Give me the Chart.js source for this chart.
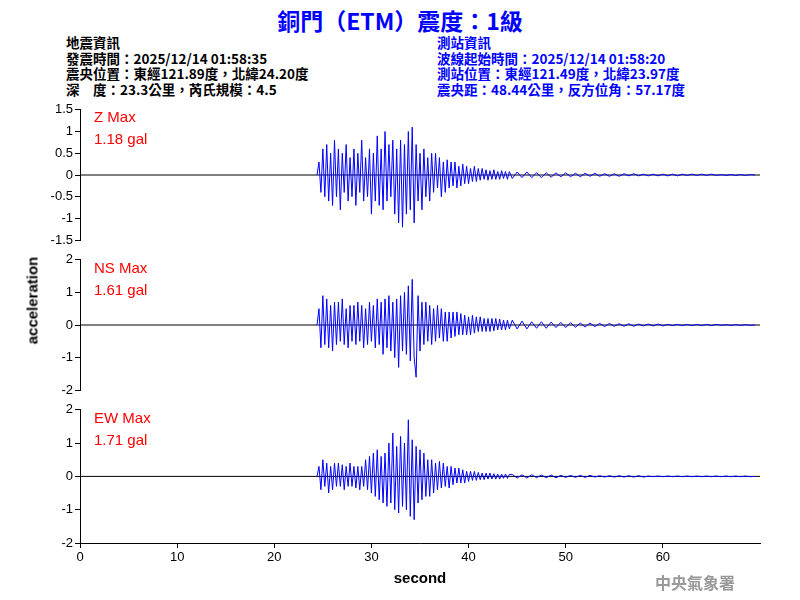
<!DOCTYPE html>
<html>
<head>
<meta charset="utf-8">
<script src="https://cdn.jsdelivr.net/npm/chart.js@4/dist/chart.umd.min.js"></script>
<style>
body { margin: 0; background: #fff; }
#wrap { position: relative; width: 800px; height: 600px; font-family: "Liberation Sans", Arial, sans-serif; }
#wrap canvas { position: absolute; left: 0; }
.t { position: absolute; white-space: nowrap; }
.hd { font-family: "Noto Sans CJK TC", sans-serif; font-size: 13.5px; font-weight: bold; line-height: 15.5px; }
.mx { color: #f00; font-size: 15px; line-height: 22px; }
</style>
</head>
<body>
<div id="wrap">
  <div class="t" style="left:0;width:800px;text-align:center;top:3px;font-size:23px;font-weight:bold;color:#0000ff;font-family:'Noto Sans CJK TC',sans-serif;">銅門（ETM）震度：1級</div>
  <div class="t hd" style="left:66px;top:35px;color:#000;">地震資訊<br>發震時間：2025/12/14 01:58:35<br>震央位置：東經121.89度，北緯24.20度<br>深　度：23.3公里，芮氏規模：4.5</div>
  <div class="t hd" style="left:437px;top:35px;color:#0000ff;">測站資訊<br>波線起始時間：2025/12/14 01:58:20<br>測站位置：東經121.49度，北緯23.97度<br>震央距：48.44公里，反方位角：57.17度</div>
  <canvas id="cz" width="800" height="150" style="top:100px"></canvas>
  <canvas id="cn" width="800" height="150" style="top:250px"></canvas>
  <canvas id="ce" width="800" height="200" style="top:400px"></canvas>
  <div class="t mx" style="left:94px;top:106px;">Z Max<br>1.18 gal</div>
  <div class="t mx" style="left:94px;top:257px;">NS Max<br>1.61 gal</div>
  <div class="t mx" style="left:94px;top:407px;">EW Max<br>1.71 gal</div>
  <div class="t" style="left:-18px;top:292px;width:100px;text-align:center;transform:rotate(-90deg);font-size:15px;font-weight:bold;">acceleration</div>
  <div class="t" style="left:655px;top:570px;font-size:16px;font-weight:bold;color:#999;font-family:'Noto Sans CJK TC',serif;">中央氣象署</div>
</div>
<script>
// waveform samples: strong part from 24.4 s every 0.2 s, tail from 44.5 s every 0.5 s
const strongStart = 24.4, strongStep = 0.2;
const tailStart = 44.5, tailStep = 0.5;

const zStrong = [0, 0.3, -0.4, 0.6, -0.5, 0.7, -0.6, 0.5, -0.7, 0.8,
  -0.5, 0.6, -0.8, 0.5, -0.4, 0.7, -0.6, 0.4, -0.5, 0.6,
  -0.7, 0.5, -0.4, 0.8, -0.6, 0.4, -0.5, 0.6, -0.9, 0.5,
  -0.6, 0.9, -0.7, 0.6, -0.8, 1.0, -0.6, 0.7, -0.5, 0.8,
  -0.9, 0.6, -1.1, 0.8, -1.2, 0.7, -0.9, 1.0, -0.8, 1.1,
  -1.1, 0.7, -0.6, 0.5, -0.8, 0.6, -0.5, 0.4, -0.6, 0.5,
  -0.4, 0.5, -0.3, 0.4, -0.5, 0.3, -0.4, 0.35, -0.3, 0.3,
  -0.25, 0.3, -0.3, 0.2, -0.25, 0.25, -0.2, 0.2, -0.2, 0.15,
  -0.15, 0.2, -0.15, 0.15, -0.12, 0.15, -0.1, 0.12, -0.12, 0.1,
  -0.1, 0.12, -0.1, 0.08, -0.1, 0.1, -0.08, 0.08, -0.1, 0.08];
const zTail = [-0.08, 0.07, -0.06, 0.07, -0.06, 0.05, -0.06, 0.05, -0.05, 0.05,
  -0.04, 0.05, -0.04, 0.04, -0.04, 0.04, -0.03, 0.04, -0.03, 0.03,
  -0.03, 0.03, -0.03, 0.03, -0.02, 0.03, -0.02, 0.02, -0.02, 0.02,
  -0.02, 0.02, -0.02, 0.02, -0.02, 0.02, -0.01, 0.02, -0.01, 0.02,
  -0.01, 0.02, -0.01, 0.01, -0.01, 0.01, -0.01, 0.01, -0.01, 0.01, 0];

const nsStrong = [0, 0.5, -0.7, 0.9, -0.6, 0.8, -0.7, 0.6, -0.8, 0.7,
  -0.6, 0.7, -0.5, 0.8, -0.6, 0.5, -0.7, 0.6, -0.5, 0.6,
  -0.6, 0.7, -0.5, 0.6, -0.7, 0.5, -0.6, 0.7, -0.5, 0.6,
  -0.7, 0.8, -0.6, 0.7, -0.9, 0.8, -0.7, 0.9, -0.8, 0.7,
  -1.0, 0.8, -1.3, 0.9, -0.8, 1.0, -0.9, 1.2, -1.1, 1.4,
  -1.0, -1.6, 0.9, -0.8, 0.7, -0.6, 0.7, -0.5, 0.6, -0.6,
  0.5, -0.5, 0.6, -0.4, 0.5, -0.5, 0.4, -0.5, 0.4, -0.4,
  0.4, -0.35, 0.4, -0.3, 0.35, -0.3, 0.3, -0.3, 0.25, -0.3,
  0.3, -0.25, 0.25, -0.2, 0.25, -0.2, 0.2, -0.2, 0.2, -0.2,
  0.2, -0.18, 0.2, -0.15, 0.18, -0.15, 0.15, -0.15, 0.15, -0.12];
const nsTail = [0.15, -0.12, 0.12, -0.12, 0.1, -0.1, 0.1, -0.1, 0.09, -0.08,
  0.08, -0.08, 0.07, -0.07, 0.06, -0.06, 0.06, -0.05, 0.05, -0.05,
  0.05, -0.04, 0.04, -0.04, 0.04, -0.04, 0.03, -0.03, 0.03, -0.03,
  0.03, -0.03, 0.02, -0.02, 0.02, -0.02, 0.02, -0.02, 0.02, -0.02,
  0.02, -0.02, 0.02, -0.01, 0.01, -0.01, 0.01, -0.01, 0.01, -0.01, 0];

const ewStrong = [0, 0.3, -0.4, 0.5, -0.3, 0.4, -0.5, 0.3, -0.4, 0.4,
  -0.3, 0.4, -0.3, 0.35, -0.4, 0.3, -0.3, 0.4, -0.3, 0.3,
  -0.35, 0.3, -0.4, 0.3, -0.3, 0.5, -0.4, 0.6, -0.5, 0.7,
  -0.6, 0.8, -0.7, 0.6, -0.8, 0.7, -0.9, 1.0, -0.8, 1.3,
  -1.0, 0.9, -1.1, 1.2, -0.9, 1.0, -1.0, 1.7, -1.2, 1.1,
  -1.3, 0.9, -0.8, 0.8, -0.7, 0.7, -0.6, 0.5, -0.6, 0.5,
  -0.5, 0.4, -0.4, 0.45, -0.35, 0.4, -0.3, 0.3, -0.35, 0.3,
  -0.25, 0.25, -0.2, 0.25, -0.2, 0.2, -0.2, 0.15, -0.15, 0.15,
  -0.12, 0.15, -0.12, 0.12, -0.1, 0.1, -0.1, 0.1, -0.08, 0.1,
  -0.08, 0.08, -0.08, 0.07, -0.08, 0.07, -0.06, 0.07, -0.06, 0.06];
const ewTail = [0.06, -0.05, 0.05, -0.05, 0.05, -0.04, 0.04, -0.04, 0.04, -0.04,
  0.03, -0.03, 0.03, -0.03, 0.03, -0.03, 0.03, -0.02, 0.02, -0.02,
  0.02, -0.02, 0.02, -0.02, 0.02, -0.02, 0.02, -0.02, 0.01, -0.01,
  0.01, -0.01, 0.01, -0.01, 0.01, -0.01, 0.01, -0.01, 0.01, -0.01,
  0.01, -0.01, 0.01, -0.01, 0.01, -0.01, 0.01, -0.01, 0.01, -0.01, 0];

const xTicks = [0, 10, 20, 30, 40, 50, 60];

function toPoints(strong, tail) {
    const pts = strong.map((v, i) => ({ x: strongStart + i * strongStep, y: v }));
    tail.forEach((v, i) => pts.push({ x: tailStart + i * tailStep, y: v }));
    return pts;
}

function makePanel(id, pts, ymin, ymax, step, showX) {
    const tickFont = { family: 'Liberation Sans', size: 13 };
    new Chart(document.getElementById(id), {
        type: 'line',
        data: {
            datasets: [
                { data: pts, borderColor: '#0000ff', borderWidth: 1, pointRadius: 0, tension: 0 },
                { data: [{ x: 0, y: 0 }, { x: 70, y: 0 }], borderColor: '#000', borderWidth: 1, pointRadius: 0 }
            ]
        },
        options: {
            responsive: false,
            animation: false,
            layout: { padding: { top: 8, bottom: showX ? 0 : 8, right: 40 } },
            plugins: { legend: { display: false }, tooltip: { enabled: false } },
            scales: {
                x: {
                    type: 'linear', min: 0, max: 70, display: showX,
                    afterBuildTicks: s => { s.ticks = xTicks.map(v => ({ value: v })); },
                    afterFit: s => { s.height = showX ? 57 : 0; },
                    grid: { drawOnChartArea: false, tickLength: 5, color: '#000' },
                    border: { color: '#000' },
                    ticks: { color: '#000', font: tickFont, maxRotation: 0, padding: 2 },
                    title: { display: true, text: 'second', color: '#000', font: { family: 'Liberation Sans', size: 15, weight: 'bold' }, padding: { top: 0, bottom: 12 } }
                },
                y: {
                    min: ymin, max: ymax,
                    afterFit: s => { s.width = 80; },
                    grid: { drawOnChartArea: false, tickLength: 5, color: '#000' },
                    border: { color: '#000' },
                    ticks: { stepSize: step, color: '#000', font: tickFont, padding: 2, callback: v => String(v) }
                }
            }
        }
    });
}

makePanel('cz', toPoints(zStrong, zTail), -1.5, 1.5, 0.5, false);
makePanel('cn', toPoints(nsStrong, nsTail), -2, 2, 1, false);
makePanel('ce', toPoints(ewStrong, ewTail), -2, 2, 1, true);
</script>
</body>
</html>
